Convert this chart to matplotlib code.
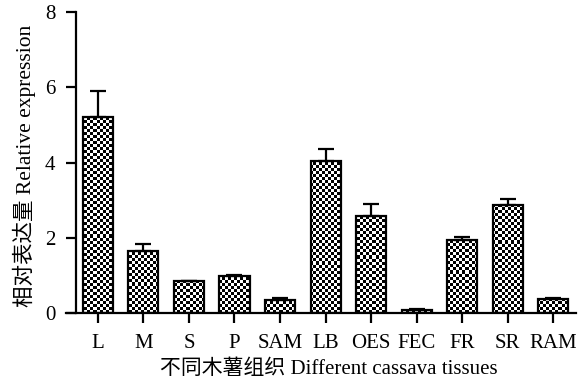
import numpy as np
import matplotlib
matplotlib.use("Agg")
import matplotlib.pyplot as plt

plt.rcParams['font.family'] = ['Liberation Serif', 'Noto Sans CJK SC']

categories = ["L", "M", "S", "P", "SAM", "LB", "OES", "FEC", "FR", "SR", "RAM"]
values = [5.22, 1.65, 0.84, 0.98, 0.34, 4.04, 2.59, 0.08, 1.95, 2.86, 0.36]
errors = [0.67, 0.18, 0.02, 0.03, 0.06, 0.31, 0.32, 0.02, 0.07, 0.16, 0.04]
yticks = [0, 2, 4, 6, 8]

fig = plt.figure(figsize=(5.83, 3.80), dpi=100)
ax = fig.add_axes([66/583, 1-313/380, 510/583, 301/380])

x = np.arange(len(categories))
bars = ax.bar(x, values, width=0.66, color='white', edgecolor='black', linewidth=1.6, zorder=2)
ax.errorbar(x, values, yerr=[np.zeros(len(errors)), errors], fmt='none', ecolor='black',
            elinewidth=1.6, capsize=5.8, capthick=1.6, zorder=3)

ax.set_xlim(-0.70, 10.5)
ax.set_ylim(0, 8)

# checker texture clipped to bars
ny, nx = 100, 170
yy, xx = np.mgrid[0:ny, 0:nx]
checker = ((xx + yy) % 2).astype(float)
for b in bars:
    im = ax.imshow(checker, cmap='gray', vmin=0, vmax=1, extent=(-0.70, 10.5, 0, 8),
                   aspect='auto', interpolation='nearest', zorder=2.5)
    im.set_clip_path(b)
for b in bars:
    b.set_facecolor('none')
    b.set_zorder(2.7)

for s in ['top', 'right']:
    ax.spines[s].set_visible(False)
ax.spines['left'].set_position(('axes', 10/510))
ax.spines['left'].set_linewidth(1.6)
ax.spines['bottom'].set_linewidth(1.6)

ax.set_yticks(yticks)
ax.set_yticklabels([str(t) for t in yticks])
ax.set_xticks(x)
ax.set_xticklabels(categories)
ax.tick_params(axis='both', direction='out', length=7, width=1.6, labelsize=15)
ax.tick_params(axis='x', pad=8)
ax.tick_params(axis='y', pad=8)

ax.set_xlabel("不同木薯组织 Different cassava tissues", fontsize=15, labelpad=5)
ax.xaxis.label.set_x(0.515)
ax.set_ylabel("相对表达量 Relative expression", fontsize=15.5, labelpad=6)
ax.yaxis.label.set_y(0.49)

fig.savefig("out.png", dpi=100)
